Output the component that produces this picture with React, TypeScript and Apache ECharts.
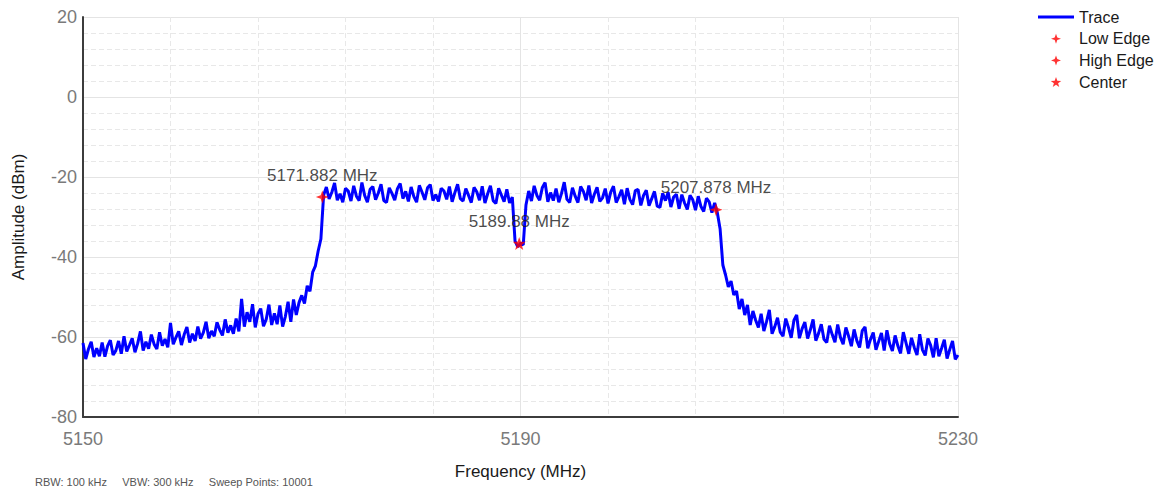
import React, { useEffect, useRef } from "react";
import * as echarts from "echarts";

// ---- data ----
const FREQ_STEP = 0.25; // MHz between trace samples

const lowSkirtStart = 5150;
const lowSkirt = [
  -61.5, -65.5, -63, -61.2, -65, -62.8, -64.8, -61.4,
  -64.9, -62.2, -60.8, -64.5, -63.4, -61, -64.2, -59.8,
  -63.6, -62, -60.3, -63.8, -61.6, -58.6, -63.4, -61.2,
  -62.9, -59.4, -61.8, -63, -58.8, -62.2, -60.5, -62.6,
  -56.5, -61.8, -60.1, -58.6, -62, -59.4, -57.5, -61.4,
  -59.2, -61, -57.4, -60.4, -58.9, -56.2, -60.3, -58.5,
  -59.8, -56.3, -58.2, -59.6, -55.6, -58.9, -57.1, -59.2,
  -55.4, -58.6, -50.5, -57.4, -53.8, -56.2, -51.8, -57.6,
  -54.2, -52.9, -57.3, -55.6, -51.9, -57, -54.1, -56.8,
  -52.1, -57.4, -54.9, -51.2, -56.2, -50.6, -54.5, -51.4,
  -49.6, -51.6, -47.2, -48.6, -43.8, -42.2, -38.5, -35.5,
];

const upperBandStart = 5172;
const upperBand = [
  -24.5, -22.5, -25.5, -23.8, -21.5, -25.8, -24.2, -26.3,
  -22.8, -23.5, -26, -22.2, -24.8, -25.9, -21.4, -24.6,
  -26.3, -23.1, -22.4, -25.7, -24, -21.8, -25.9, -26.4,
  -22.7, -24.1, -25.8, -22.9, -21.6, -25.4, -23.6, -26.1,
  -22.5, -24.9, -26.3, -22.1, -23.8, -25.7, -22.7, -21.9,
  -25.9, -24.4, -26.1, -22.8, -23.5, -25.6, -22.4, -26.2,
  -23.9, -21.8, -25.4, -26, -22.9, -24.6, -26.4, -22.6,
  -23.7, -25.8, -22.3, -26.5, -24.2, -22.2, -25.9, -26.6,
  -22.8, -24.5, -26.2, -23.1, -26.5, -25,
];

const notchStart = 5189.5;
const notch = [-36, -37.5, -36.5, -37, -27];

const upperBand2Start = 5190.75;
const upperBand2 = [
  -23.5, -26, -22.2, -24.6, -25.8, -22.6, -21.4, -26.2,
  -23.9, -25.9, -22.9, -26.3, -24.1, -21.3, -25.6, -26.4,
  -22.7, -24.8, -26.4, -22.4, -23.6, -25.8, -22.1, -26.5,
  -24.3, -22.6, -26.1, -25.2, -22.9, -26.6, -23.8, -22.3,
  -26.4, -24.9, -23.2, -26.8, -22.8, -25.6, -26.9, -23.4,
  -23.1, -27.1, -24.6, -23.3, -27.2, -25.4, -23.6, -27.3,
  -27.6, -24.1, -25.9, -23.8, -27.5, -25, -24.3, -27.9,
  -24.4, -26.5, -28.1, -24.6, -25.7, -28.3, -24.8, -27.4,
  -28.6, -25.3, -26.2, -28.9, -26.5,
];

const highSkirtStart = 5208;
const highSkirt = [
  -29, -33, -42, -44.5, -47.5, -46, -49.5, -48.5,
  -53, -50.5, -54.5, -52, -57, -53.5, -55.8, -57.6,
  -54.2, -58.5, -56.1, -53.2, -59.2, -57.4, -55.2, -58.8,
  -59.8, -55.4, -57.6, -60.2, -55.8, -54.5, -60.3, -57.9,
  -56.3, -60.4, -58.2, -55.6, -60.9, -59.1, -56.8, -60.6,
  -61.4, -57.2, -59.4, -61.3, -56.9, -60.1, -61.8, -57.6,
  -59.8, -62.3, -58.1, -60.9, -62.6, -58.4, -57.5, -62.8,
  -60.6, -58.9, -63.2, -61.1, -59, -63.4, -58.3, -61.7,
  -63.5, -59.6, -62.2, -64.1, -58.8, -61.5, -64.2, -60.2,
  -62.6, -64.5, -59.3, -63.2, -64.6, -60.4, -62.1, -65.1,
  -60.3, -64.8, -62.8, -60.7, -65.4, -63.1, -61, -65.6,
  -64.5,
];

const markerNames = ["Low Edge", "High Edge", "Center"];
const markerFreqs = [5171.882, 5207.878, 5189.88];
const markerDbm = [-25, -28.2, -36.6];
const markerLabels = ["5171.882 MHz", "5207.878 MHz", "5189.88 MHz"];

const xMin = 5150;
const xMax = 5230;
const xInterval = 40;
const yMin = -80;
const yMax = 20;
const yInterval = 20;

const footerText = "RBW: 100 kHz     VBW: 300 kHz     Sweep Points: 10001";

// ---- styling ----
const FONT = "'Liberation Sans', Arial, sans-serif";
const STAR4 =
  "path://M0,-10L2.6,-2.6L10,0L2.6,2.6L0,10L-2.6,2.6L-10,0L-2.6,-2.6Z";
const STAR5 =
  "path://M0,-10L2.35,-3.24L9.51,-3.09L3.8,1.24L5.88,8.09L0,4L-5.88,8.09L-3.8,1.24L-9.51,-3.09L-2.35,-3.24Z";
const LINE_ICON = "path://M0,0H36V3H0Z";
const markerSymbols = [STAR4, STAR4, STAR5];

function buildTrace(): number[][] {
  const segs: [number, number[]][] = [
    [lowSkirtStart, lowSkirt],
    [upperBandStart, upperBand],
    [notchStart, notch],
    [upperBand2Start, upperBand2],
    [highSkirtStart, highSkirt],
  ];
  const out: number[][] = [];
  segs.forEach(([start, vals]) => {
    vals.forEach((v, i) => out.push([+(start + i * FREQ_STEP).toFixed(3), v]));
  });
  return out;
}

export default function App() {
  const ref = useRef<HTMLDivElement>(null);

  useEffect(() => {
    if (!ref.current) return;
    const chart = echarts.init(ref.current, undefined, { renderer: "svg" });

    const markerSeries = markerNames.map((name, i) => ({
      name,
      type: "scatter",
      data: [[markerFreqs[i], markerDbm[i]]],
      symbol: markerSymbols[i],
      symbolSize: 13,
      itemStyle: { color: "#ff0000" },
      z: 4,
      silent: true,
      label: {
        show: true,
        position: "top",
        distance: 7,
        formatter: markerLabels[i],
        fontSize: 17,
        fontFamily: FONT,
        color: "#1a1a1a",
      },
    }));

    chart.setOption({
      animation: false,
      backgroundColor: "#ffffff",
      textStyle: { fontFamily: FONT },
      grid: {
        left: 83,
        right: 209,
        top: 17,
        bottom: 72,
        containLabel: false,
        outerBoundsMode: "none",
      },
      legend: {
        orient: "vertical",
        left: 1033,
        top: 4,
        itemWidth: 36,
        itemHeight: 10,
        itemGap: 5.7,
        selectedMode: false,
        textStyle: { fontSize: 16, lineHeight: 16, color: "#1a1a1a", fontFamily: FONT },
        data: [
          { name: "Trace", icon: LINE_ICON, itemStyle: { color: "#0000ff" } },
          ...markerNames.map((n, i) => ({ name: n, icon: markerSymbols[i], itemStyle: { color: "#ff0000" } })),
        ],
      },
      xAxis: {
        type: "value",
        min: xMin,
        max: xMax,
        interval: xInterval,
        name: "Frequency (MHz)",
        nameLocation: "middle",
        nameGap: 46,
        nameTextStyle: { fontSize: 17, color: "#1a1a1a", fontFamily: FONT },
        axisLine: { show: true, onZero: false, lineStyle: { color: "#3c3c3c", width: 2 } },
        axisTick: { show: false },
        axisLabel: {
          fontSize: 18,
          color: "#7a7a7a",
          margin: 13,
          fontFamily: FONT,
          formatter: (v: number) => String(v),
        },
        splitLine: { show: true, lineStyle: { color: "#e4e4e4", width: 1 } },
        minorTick: { show: false, splitNumber: 5 },
        minorSplitLine: { show: true, lineStyle: { color: "#e8e8e8", width: 1, type: [5, 3] } },
      },
      yAxis: {
        type: "value",
        min: yMin,
        max: yMax,
        interval: yInterval,
        name: "Amplitude (dBm)",
        nameLocation: "middle",
        nameGap: 56,
        nameRotate: 90,
        nameTextStyle: { fontSize: 17, color: "#1a1a1a", fontFamily: FONT },
        axisLine: { show: true, onZero: false, lineStyle: { color: "#3c3c3c", width: 2 } },
        axisTick: { show: false },
        axisLabel: {
          fontSize: 18,
          color: "#7a7a7a",
          margin: 6,
          fontFamily: FONT,
          formatter: (v: number) => String(v),
        },
        splitLine: { show: true, lineStyle: { color: "#e4e4e4", width: 1 } },
        minorTick: { show: false, splitNumber: 5 },
        minorSplitLine: { show: true, lineStyle: { color: "#e8e8e8", width: 1, type: [5, 3] } },
      },
      graphic: [
        {
          type: "text",
          left: 35,
          top: 476,
          silent: true,
          style: { text: footerText, fontSize: 11, fontFamily: FONT, fill: "#555555" },
        },
      ],
      series: [
        {
          name: "Trace",
          type: "line",
          data: buildTrace(),
          showSymbol: false,
          symbol: "none",
          lineStyle: { color: "#0000ff", width: 3, join: "bevel" },
          itemStyle: { color: "#0000ff" },
          z: 2,
          silent: true,
        },
        ...markerSeries,
      ],
    });

    return () => chart.dispose();
  }, []);

  return (
    <div
      ref={ref}
      style={{ position: "fixed", left: 0, top: 0, width: 1167, height: 489, background: "#fff" }}
    />
  );
}
